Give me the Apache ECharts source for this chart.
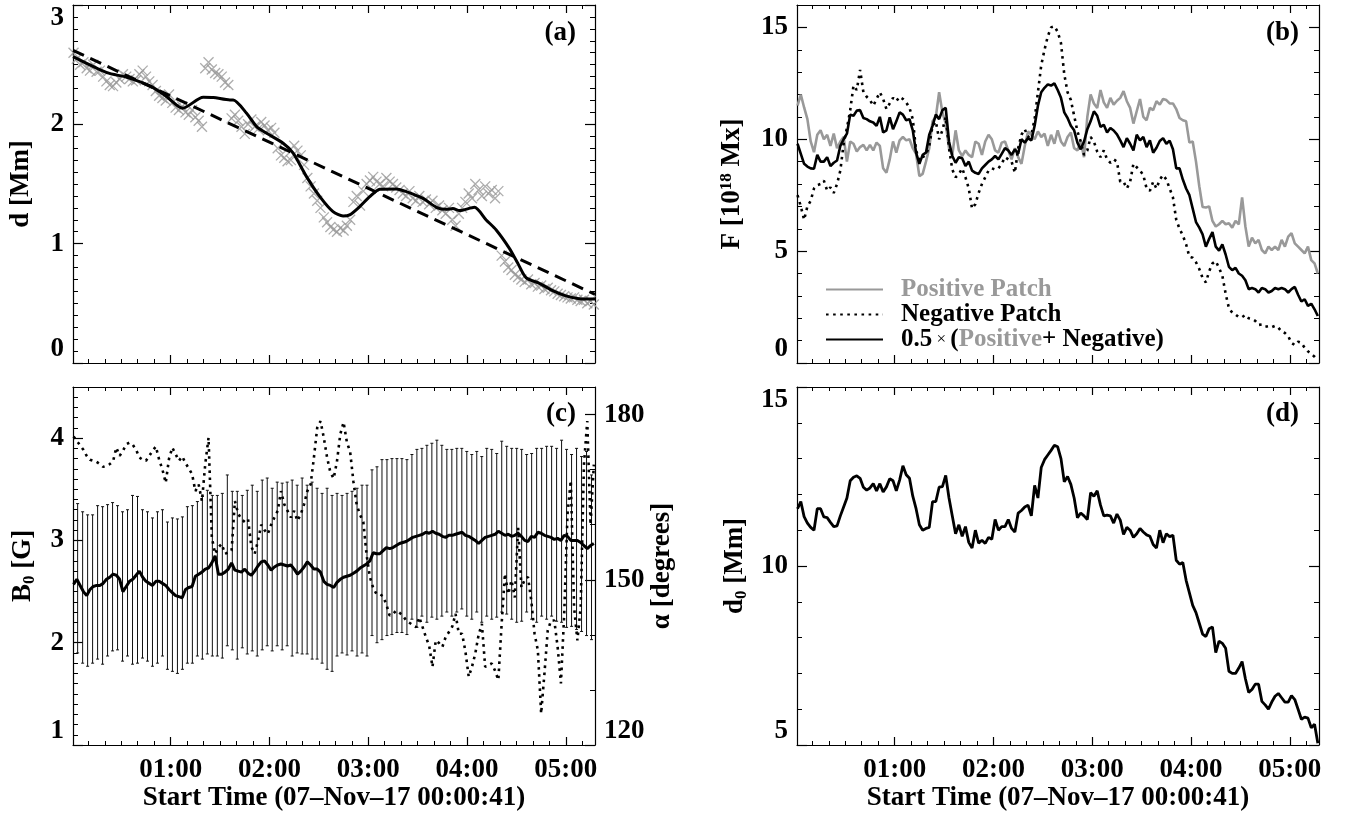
<!DOCTYPE html>
<html>
<head>
<meta charset="utf-8">
<script src="https://cdn.jsdelivr.net/npm/echarts@6/dist/echarts.min.js"></script>
<style>html,body{margin:0;padding:0;background:#fff}#c{width:1351px;height:820px}</style>
</head>
<body>
<div id="c"></div>
<script>
// ---------------- DATA ----------------
// time axis: minutes after 00:00 UT (start time 00:00:41)
const START_MIN = 0.683;
const END_MIN = 317.7;
const hourTicks = [60, 120, 180, 240, 300];
const minorTimeTicks = [10,20,30,40,50,60,70,80,90,100,110,120,130,140,150,160,170,180,190,200,210,220,230,240,250,260,270,280,290,300,310];
const X_TITLE = 'Start Time (07\u2013Nov\u201317 00:00:41)';
const GRID_FIRST = 1, GRID_STEP = 2;   // sampling cadence of the time series (minutes)
const EB_FIRST = 3.5, EB_STEP = 3.03;  // cadence of the B0 error bars (minutes)

// (a) distance d [Mm]: observed (crosses), smoothed (solid), linear fit (dashed)
const crossD = [2.6,2.55,2.5,2.52,2.47,2.45,2.5,2.44,2.45,
  2.4,2.36,2.33,2.32,2.35,2.38,2.42,2.4,
  2.38,2.36,2.37,2.42,2.45,2.4,2.36,2.33,
  2.28,2.24,2.22,2.2,2.25,2.18,
  2.14,2.12,2.15,2.1,2.08,2.12,2.06,2.03,1.98,
  2.47,2.52,2.46,2.43,2.42,2.4,2.35,2.33,
  2.05,2.08,2.03,1.98,1.92,2.0,2.04,
  1.98,1.96,2.02,1.99,1.95,1.97,1.93,
  1.8,1.74,1.72,1.69,1.7,
  1.82,1.78,1.74,1.66,
  1.55,1.48,1.42,1.36,
  1.3,1.22,1.18,1.14,1.12,1.1,1.13,1.11,1.15,1.2,
  1.35,1.4,1.32,1.44,
  1.5,1.53,1.56,1.52,1.5,1.48,1.55,1.52,1.5,1.47,
  1.45,1.42,1.4,1.44,1.38,1.36,1.4,1.35,1.37,1.33,1.36,1.3,1.32,
  1.28,1.25,1.3,1.2,1.15,1.25,1.3,1.35,
  1.42,1.38,1.5,
  1.45,1.4,1.48,1.42,1.45,1.38,1.44,
  0.9,0.85,0.8,0.78,0.74,
  0.72,0.7,0.68,0.7,0.66,0.67,0.64,0.65,0.62,0.63,0.61,
  0.6,0.58,0.57,0.56,0.55,0.54,0.55,0.53,0.52,0.53,0.5,0.52,0.49];
const smoothT = [0.7,21.3,33.4,47.5,57.6,67.3,79.8,85.9,96,98,106.1,112.2,118.3,128.3,134.4,142.5,150.6,158.6,164.7,168.7,174.8,180.9,187,197,203.1,209.2,214.2,221.3,227.3,231.4,235.4,244.5,251.6,257.7,265.7,270.8,275.8,283.9,292,300,308.1,317.7];
const smoothD = [2.567,2.433,2.394,2.322,2.232,2.135,2.227,2.225,2.204,2.204,2.093,1.981,1.925,1.841,1.758,1.562,1.394,1.268,1.232,1.241,1.31,1.394,1.456,1.459,1.436,1.403,1.372,1.305,1.288,1.294,1.277,1.305,1.199,1.115,0.961,0.836,0.715,0.668,0.606,0.562,0.539,0.536];
const fitT = [0.7, 317.7];
const fitD = [2.62, 0.575];

// (b) flux F [1e18 Mx]
const posF = [11.5,12.0,11.42,10.9,9.9,9.42,10.2,10.4,10.0,10.2,
  9.7,10.25,9.6,9.9,10.1,9.0,9.9,9.8,9.45,9.65,
  9.75,9.5,9.75,9.5,9.85,9.7,8.7,8.5,9.1,9.9,
  9.4,9.95,10.1,9.95,10.0,9.6,9.35,8.35,8.45,9.0,
  9.6,10.8,11.0,12.1,11.2,10.7,9.6,9.3,10.4,9.5,
  9.25,9.5,9.3,9.2,9.9,9.8,9.3,9.9,10.2,10.0,
  9.5,9.4,9.85,9.9,9.5,9.1,9.6,9.2,8.9,9.7,
  10.35,10.2,10.0,10.35,10.1,10.25,9.7,10.2,
  9.8,10.4,9.9,9.7,10.1,10.3,9.6,9.5,9.9,9.2,
  11.0,12.0,11.6,11.4,12.2,11.65,11.4,11.85,11.55,11.72,
  11.85,12.15,11.7,11.4,10.7,11.25,11.8,11.0,10.85,11.4,
  11.3,11.7,11.55,11.8,11.75,11.6,11.6,11.35,10.95,10.85,
  10.8,9.85,9.9,9.0,7.9,6.97,6.95,7.0,6.35,6.1,
  6.2,6.35,6.2,6.25,6.05,6.35,6.2,7.4,6.1,5.2,
  5.6,5.35,5.5,5.05,4.9,5.2,5.05,5.2,5.05,5.5,
  5.2,5.65,5.8,5.35,5.2,5.05,4.9,5.2,4.6,4.45,4.0];
const negF = [7.5,7.0,6.4,7.0,7.25,7.8,7.95,8.0,8.15,7.7,
  7.85,7.6,8.0,8.6,9.8,10.5,11.3,12.4,12.2,13.1,
  12.1,11.9,11.75,11.5,11.8,12.1,11.8,11.35,11.6,11.85,
  11.7,11.9,11.8,11.65,11.4,10.9,9.5,9.05,9.2,9.3,
  9.7,10.6,10.8,10.0,10.4,11.0,9.6,8.65,8.3,8.45,
  8.7,8.3,7.8,6.9,7.1,7.6,8.0,8.3,8.6,8.7,
  8.65,8.7,8.9,9.2,9.1,9.0,8.5,9.6,10.2,10.45,
  10.1,10.2,10.9,12.1,13.3,14.0,14.6,15.0,
  15.05,14.8,14.3,12.9,12.1,11.75,11.05,10.35,9.9,9.3,
  9.5,10.1,9.9,9.45,9.2,9.5,9.1,8.95,9.1,9.0,
  8.1,8.1,7.8,8.1,8.9,8.75,8.6,8.4,7.8,7.7,
  8.1,7.8,8.2,8.4,8.2,7.8,7.4,6.4,6.0,5.7,
  5.3,4.75,4.7,4.5,4.2,3.8,3.6,4.1,4.45,4.55,
  4.25,3.9,3.1,2.45,2.25,2.17,2.05,2.05,2.15,2.0,
  1.97,1.88,1.7,1.72,1.62,1.65,1.6,1.66,1.58,1.4,
  1.34,1.2,0.9,0.8,0.95,0.9,0.68,0.52,0.4,0.28,0.12];
const avgF = [9.8,9.35,8.9,8.78,8.7,8.68,9.3,9.0,9.0,9.2,
  8.8,8.95,9.05,9.7,10.0,10.25,11.1,11.05,11.28,11.3,
  10.95,10.9,10.8,10.75,10.6,11.0,10.3,10.4,10.98,10.45,
  10.8,11.2,11.1,10.85,10.9,10.4,9.4,8.9,9.3,9.4,
  10.2,10.6,11.1,10.9,11.3,11.4,9.9,9.25,8.95,9.2,
  9.15,8.8,9.0,8.6,8.5,8.45,8.7,8.85,9.0,9.1,
  9.25,9.1,9.35,9.6,9.5,9.3,9.55,9.35,10.0,9.85,
  10.05,9.95,10.6,11.5,12.1,12.3,12.45,12.4,
  12.5,12.2,11.85,11.2,10.95,10.6,10.4,9.85,9.55,9.9,
  10.45,10.8,11.25,11.05,10.55,10.65,10.3,10.5,10.39,10.22,
  9.95,9.65,10.05,9.8,9.5,10.2,9.95,10.1,9.65,9.95,
  9.4,9.62,9.92,10.05,9.8,9.94,9.55,8.7,8.7,8.2,
  7.8,7.5,6.9,6.3,6.05,5.75,5.2,5.55,5.85,5.2,
  5.02,5.3,4.85,4.3,4.15,4.25,4.0,3.9,3.7,3.3,
  3.35,3.3,3.15,3.35,3.3,3.15,3.22,3.35,3.3,3.35,
  3.3,3.15,3.3,3.4,3.05,2.75,2.85,2.55,2.65,2.4,2.1];

// (c) B0 [G] with error bars, and alpha [degrees]
const b0 = [2.57,2.62,2.56,2.5,2.46,2.52,2.55,2.56,2.56,2.58,
  2.62,2.64,2.67,2.66,2.62,2.5,2.55,2.6,2.62,2.66,
  2.7,2.64,2.6,2.58,2.56,2.6,2.6,2.58,2.56,2.52,
  2.49,2.46,2.45,2.44,2.52,2.54,2.55,2.65,2.67,2.69,
  2.72,2.73,2.78,2.85,2.67,2.67,2.69,2.72,2.78,2.71,
  2.7,2.69,2.72,2.68,2.66,2.7,2.75,2.79,2.8,2.76,
  2.71,2.74,2.76,2.77,2.76,2.75,2.76,2.72,2.67,2.7,
  2.74,2.79,2.76,2.72,2.72,2.69,2.6,2.57,2.56,2.54,
  2.59,2.62,2.64,2.65,2.66,2.68,2.7,2.73,2.75,2.77,
  2.8,2.88,2.87,2.87,2.9,2.93,2.92,2.93,2.95,2.97,
  2.98,2.99,3.01,3.03,3.04,3.05,3.06,3.08,3.07,3.09,
  3.07,3.06,3.04,3.03,3.05,3.05,3.06,3.07,3.08,3.05,
  3.04,3.02,3.0,2.97,3.0,3.03,3.04,3.05,3.06,3.09,
  3.07,3.05,3.06,3.04,3.05,3.07,3.04,3.0,2.99,3.04,
  3.03,3.08,3.07,3.05,3.04,3.03,3.01,3.02,3.0,3.05,
  3.04,3.0,3.0,3.0,2.98,2.95,2.92,2.95,2.97];
const alpha = [176.0,175.2,174.4,173.6,172.5,171.8,171.6,171.4,171.0,170.5,
  170.7,171.0,171.5,174.0,172.5,173.4,174.6,174.9,174.5,173.6,
  172.2,171.8,171.6,172.5,173.4,174.2,171.8,170.0,167.6,172.0,
  174.0,172.8,171.6,172.4,171.2,170.2,169.2,166.1,167.3,164.3,
  171.0,175.8,157.7,154.7,155.9,156.5,154.7,155.0,155.3,164.3,
  162.0,161.0,160.5,161.0,156.0,154.7,157.0,160.0,159.0,158.3,
  160.0,161.3,162.5,166.1,163.7,162.5,161.3,162.5,160.7,161.9,
  163.7,166.1,167.3,172.2,177.6,178.8,175.8,172.2,169.5,168.4,
  171.5,176.4,178.6,175.0,173.2,167.8,163.6,161.8,160.5,154.5,
  150.5,148.5,147.4,147.4,147.0,145.5,143.5,143.8,144.4,144.0,
  143.5,142.6,142.2,141.8,141.4,143.2,141.4,139.6,138.0,134.2,
  139.0,138.5,137.8,139.6,140.5,141.5,143.8,140.2,140.2,137.0,
  132.4,134.2,136.6,140.0,142.0,134.2,134.5,134.8,133.5,131.8,
  142.0,151.1,147.4,149.9,146.8,159.5,148.6,150.0,150.5,146.2,
  140.2,137.2,125.7,133.0,140.8,142.6,142.6,137.8,131.2,143.8,
  161.9,168.0,145.0,139.0,145.0,171.0,178.8,160.0,170.9];
const ebHi = [3.36,3.28,3.25,3.25,3.34,3.33,3.35,3.37,3.34,3.28,3.3,3.44,3.43,3.3,3.28,3.22,3.28,3.3,3.18,3.22,
  3.21,3.23,3.33,3.34,3.38,3.43,3.49,3.44,3.44,3.46,3.64,3.48,3.48,3.44,3.49,3.54,3.48,3.59,3.61,3.51,
  3.57,3.56,3.57,3.59,3.54,3.61,3.54,3.57,3.51,3.46,3.51,
  3.44,3.46,3.44,3.46,3.48,3.51,3.54,3.54,3.69,3.72,3.79,3.79,3.8,3.8,3.8,3.79,3.84,3.89,3.9,3.93,
  3.95,3.98,3.93,3.89,3.89,3.9,3.9,3.87,3.84,3.87,3.82,3.9,3.89,3.85,3.97,3.92,3.9,3.9,3.89,3.84,
  3.85,3.9,3.9,3.92,3.92,3.9,3.98,3.89,3.84,3.9,3.82,3.87,3.64];
const ebLo = [1.9,1.8,1.77,1.8,1.84,1.79,1.87,1.92,1.93,1.82,1.87,1.79,1.8,1.85,1.82,1.77,1.8,1.87,1.74,1.72,
  1.7,1.74,1.8,1.8,1.87,1.84,1.89,1.87,1.87,1.85,1.97,1.93,1.84,1.95,1.89,1.92,1.87,1.93,1.97,1.92,
  1.97,1.93,1.97,1.87,1.9,1.89,1.89,1.84,1.84,1.8,1.74,
  1.72,1.87,1.9,1.88,1.92,1.87,1.9,1.87,2.07,2.0,2.03,2.07,2.08,2.1,2.1,2.08,2.23,2.15,2.26,2.2,
  2.25,2.23,2.26,2.3,2.26,2.3,2.33,2.26,2.23,2.3,2.2,2.26,2.23,2.25,2.3,2.28,2.23,2.2,2.21,2.3,
  2.23,2.2,2.26,2.23,2.26,2.21,2.2,2.15,2.16,2.13,2.11,2.07,2.03];

// (d) d0 [Mm]
const d0 = [11.6,11.8,11.38,11.2,11.08,11.0,11.6,11.6,11.37,11.35,
  11.22,11.1,11.12,11.4,11.65,11.9,12.38,12.48,12.52,12.45,
  12.2,12.12,12.18,12.3,12.1,12.3,12.07,12.21,12.44,12.38,
  12.1,12.4,12.8,12.55,12.45,11.95,11.6,11.15,11.0,11.05,
  11.08,11.8,11.8,12.2,12.22,12.53,11.9,11.4,10.9,11.15,
  10.83,11.1,10.66,10.5,11.0,10.64,10.72,10.63,10.8,10.75,
  11.3,11.0,11.1,11.1,11.3,11.05,10.95,11.48,11.55,11.65,
  11.7,11.4,12.25,11.9,12.75,12.97,13.1,13.23,13.37,13.33,
  13.0,12.35,12.5,12.28,11.9,11.35,11.48,11.4,11.3,12.05,
  11.95,12.1,11.7,11.4,11.42,11.4,11.2,11.45,11.28,10.88,
  11.08,11.0,10.8,10.9,11.05,10.95,10.87,10.83,10.6,10.5,
  11.0,10.65,10.9,10.82,10.86,10.16,10.05,10.1,9.6,9.25,
  8.9,8.7,8.4,8.1,8.03,8.25,8.3,7.58,7.9,7.84,
  7.7,7.06,7.0,7.0,7.15,7.33,6.85,6.47,6.55,6.7,
  6.7,6.22,6.12,6.0,6.2,6.36,6.44,6.32,6.2,6.2,
  6.38,6.27,6.0,5.72,5.78,5.75,5.48,5.58,5.05];

// tick values
const aMajor = [0, 1, 2, 3];
const bMajor = [0, 5, 10, 15];
const cMajor = [1, 2, 3, 4];
const cAlphaMajor = [120, 150, 180];
const dMajor = [5, 10, 15];

// ---------------- BUILD ----------------
const FONT = "'Liberation Serif','Times New Roman',serif";
const GRAY = '#999999';
const BLACK = '#000000';
const FS = 27;
const POS = 'Positive Patch', NEG = 'Negative Patch', AVG = '0.5x(Positive+ Negative)';

function range(a, b, s) { const r = []; const n = Math.round((b - a) / s); for (let i = 0; i <= n; i++) r.push(+(a + i * s).toFixed(4)); return r; }
const pairs = (xs, ys) => xs.map((x, i) => [x, ys[i]]);
const timeGrid = crossD.map((_, i) => GRID_FIRST + GRID_STEP * i);
const ebT = ebLo.map((_, i) => EB_FIRST + EB_STEP * i);

const txt = (size) => ({ color: BLACK, fontFamily: FONT, fontWeight: 'bold', fontSize: size });
const richSS = {
  sup: Object.assign(txt(17), { padding: [0, 0, 12, 0] }),
  sub: Object.assign(txt(17), { padding: [12, 0, 0, 0] })
};

const grid = [
  { left: 73, top: 5, width: 522, height: 358, outerBoundsMode: 'none' },
  { left: 797, top: 5, width: 522, height: 358, outerBoundsMode: 'none' },
  { left: 73, top: 387, width: 522, height: 358, outerBoundsMode: 'none' },
  { left: 797, top: 387, width: 522, height: 358, outerBoundsMode: 'none' }
];
const xAxis = [], yAxis = [];
const LINE = { color: BLACK, width: 1.2 };

function addTimeAxes(gi, labelled) {
  const base = () => ({ gridIndex: gi, type: 'value', min: START_MIN, max: END_MIN, splitLine: { show: false }, axisPointer: { show: false } });
  const main = xAxis.length;
  xAxis.push(Object.assign(base(), {
    position: 'bottom',
    axisLine: { show: true, onZero: false, lineStyle: LINE },
    axisTick: { show: true, inside: true, length: 8, customValues: hourTicks, lineStyle: LINE },
    axisLabel: labelled ? Object.assign({ show: true, customValues: hourTicks, margin: 12,
      formatter: v => ('0' + Math.round(v / 60)).slice(-2) + ':00' }, txt(FS)) : { show: false },
    name: labelled ? X_TITLE : '', nameLocation: 'middle', nameGap: 40, nameTextStyle: txt(FS)
  }));
  xAxis.push(Object.assign(base(), { position: 'bottom', axisLine: { show: false, onZero: false },
    axisTick: { show: true, inside: true, length: 4, customValues: minorTimeTicks, lineStyle: { color: BLACK, width: 1 } }, axisLabel: { show: false } }));
  xAxis.push(Object.assign(base(), { position: 'top', axisLine: { show: true, onZero: false, lineStyle: LINE },
    axisTick: { show: true, inside: true, length: 8, customValues: hourTicks, lineStyle: LINE }, axisLabel: { show: false } }));
  xAxis.push(Object.assign(base(), { position: 'top', axisLine: { show: false, onZero: false },
    axisTick: { show: true, inside: true, length: 4, customValues: minorTimeTicks, lineStyle: { color: BLACK, width: 1 } }, axisLabel: { show: false } }));
  return main;
}

function addValueAxes(gi, pos, min, max, majors, minors, label) {
  const base = () => ({ gridIndex: gi, type: 'value', position: pos, min: min, max: max, splitLine: { show: false }, axisPointer: { show: false } });
  const main = yAxis.length;
  yAxis.push(Object.assign(base(), {
    axisLine: { show: true, onZero: false, lineStyle: LINE },
    axisTick: { show: true, inside: true, length: 10, customValues: majors, lineStyle: LINE },
    axisLabel: label ? Object.assign({ show: true, customValues: majors, margin: 9 }, txt(FS), label.extra || {}) : { show: false },
    name: label ? label.name : '', nameLocation: 'middle', nameRotate: 90, nameGap: label ? label.gap : 0,
    nameTextStyle: Object.assign(txt(FS), { rich: richSS })
  }));
  yAxis.push(Object.assign(base(), { axisLine: { show: false, onZero: false },
    axisTick: { show: true, inside: true, length: 5, customValues: minors, lineStyle: { color: BLACK, width: 1 } }, axisLabel: { show: false } }));
  return main;
}

// panel a
const xa = addTimeAxes(0, false);
const ya = addValueAxes(0, 'left', 0, 3, aMajor, range(0, 3, 0.1), { name: 'd [Mm]', gap: 38, extra: { verticalAlignMinLabel: 'bottom', verticalAlignMaxLabel: 'top' } });
addValueAxes(0, 'right', 0, 3, aMajor, range(0, 3, 0.1), null);
// panel b
const xb = addTimeAxes(1, false);
const yb = addValueAxes(1, 'left', 0, 16, bMajor, range(0, 16, 1), { name: 'F [10{sup|18} Mx]', gap: 50, extra: { verticalAlignMinLabel: 'bottom' } });
addValueAxes(1, 'right', 0, 16, bMajor, range(0, 16, 1), null);
// panel c
const xc = addTimeAxes(2, true);
const yc = addValueAxes(2, 'left', 1, 4.5, cMajor, range(1, 4.5, 0.1), { name: 'B{sub|0} [G]', gap: 35, extra: { verticalAlignMinLabel: 'bottom' } });
const ycr = addValueAxes(2, 'right', 120, 185, cAlphaMajor, range(120, 180, 10), { name: '\u03b1 [degrees]', gap: 48, extra: { verticalAlignMinLabel: 'bottom' } });
// panel d
const xd = addTimeAxes(3, true);
const yd = addValueAxes(3, 'left', 5, 15, dMajor, range(5, 15, 1), { name: 'd{sub|0} [Mm]', gap: 47, extra: { verticalAlignMinLabel: 'bottom', verticalAlignMaxLabel: 'top' } });
addValueAxes(3, 'right', 5, 15, dMajor, range(5, 15, 1), null);

const lineS = (name, xi, yi, data, style, z) => ({
  type: 'line', name: name, xAxisIndex: xi, yAxisIndex: yi, data: data, symbol: 'none', showSymbol: false,
  lineStyle: style, itemStyle: { color: style.color }, z: z || 3, silent: true, animation: false
});

const series = [
  { type: 'scatter', xAxisIndex: xa, yAxisIndex: ya, data: pairs(timeGrid, crossD),
    symbol: 'path://M0,0L10,10M10,0L0,10', symbolSize: 10,
    itemStyle: { color: 'rgba(0,0,0,0)', borderColor: GRAY, borderWidth: 1.3 }, z: 2, silent: true, animation: false },
  lineS('fit', xa, ya, pairs(fitT, fitD), { color: BLACK, width: 3, type: [12, 7] }, 3),
  Object.assign(lineS('smooth', xa, ya, pairs(smoothT, smoothD), { color: BLACK, width: 3 }, 4), { smooth: 0.25 }),

  lineS(POS, xb, yb, pairs(timeGrid, posF), { color: GRAY, width: 2.6 }, 3),
  lineS(NEG, xb, yb, pairs(timeGrid, negF), { color: BLACK, width: 2.6, type: [2.6, 4.5] }, 4),
  lineS(AVG, xb, yb, pairs(timeGrid, avgF), { color: BLACK, width: 2.6 }, 5),

  { type: 'custom', xAxisIndex: xc, yAxisIndex: yc, data: ebT.map((t, i) => [t, ebLo[i], ebHi[i]]),
    encode: { x: 0, y: [1, 2] }, silent: true, animation: false, z: 2,
    renderItem: (params, api) => {
      const p1 = api.coord([api.value(0), api.value(1)]);
      const p2 = api.coord([api.value(0), api.value(2)]);
      const st = { stroke: '#111', lineWidth: 1 };
      return { type: 'group', children: [
        { type: 'line', shape: { x1: p1[0], y1: p1[1], x2: p2[0], y2: p2[1] }, style: st },
        { type: 'line', shape: { x1: p1[0] - 1.5, y1: p1[1], x2: p1[0] + 1.5, y2: p1[1] }, style: st },
        { type: 'line', shape: { x1: p2[0] - 1.5, y1: p2[1], x2: p2[0] + 1.5, y2: p2[1] }, style: st }
      ] };
    } },
  lineS('B0', xc, yc, pairs(timeGrid, b0), { color: BLACK, width: 3 }, 4),
  lineS('alpha', xc, ycr, pairs(timeGrid, alpha), { color: BLACK, width: 2.6, type: [2.6, 4.5] }, 5),

  lineS('d0', xd, yd, pairs(timeGrid, d0), { color: BLACK, width: 2.8 }, 3)
];

const panelLabel = (t, x, y) => ({ type: 'text', x: x, y: y, silent: true,
  style: { text: t, fill: BLACK, fontFamily: FONT, fontWeight: 'bold', fontSize: FS,
    align: 'right', verticalAlign: 'middle', textAlign: 'right', textVerticalAlign: 'middle' } });

const option = {
  animation: false,
  backgroundColor: '#ffffff',
  grid: grid,
  xAxis: xAxis,
  yAxis: yAxis,
  legend: {
    data: [{ name: POS, textStyle: { color: GRAY } }, { name: NEG }, { name: AVG }],
    orient: 'vertical', left: 820, top: 272, itemWidth: 57, itemHeight: 12, itemGap: 0,
    selectedMode: false,
    itemStyle: { opacity: 0 },
    textStyle: Object.assign(txt(25), { lineHeight: 25, padding: [0, 0, 0, 13],
      rich: {
        n: Object.assign(txt(25), { lineHeight: 25 }),
        g: Object.assign(txt(25), { lineHeight: 25, color: GRAY }),
        x: Object.assign(txt(17), { lineHeight: 25, fontWeight: 'normal' })
      } }),
    formatter: n => n === AVG ? '{n|0.5}{x| \u00d7 }{n|(}{g|Positive}{n|+ Negative)}' : n
  },
  graphic: [
    panelLabel('(a)', 576, 33),
    panelLabel('(b)', 1299, 33),
    panelLabel('(c)', 576, 414),
    panelLabel('(d)', 1299, 414)
  ],
  series: series
};

const chart = echarts.init(document.getElementById('c'), null, { renderer: 'canvas' });
chart.setOption(option);
</script>
</body>
</html>
